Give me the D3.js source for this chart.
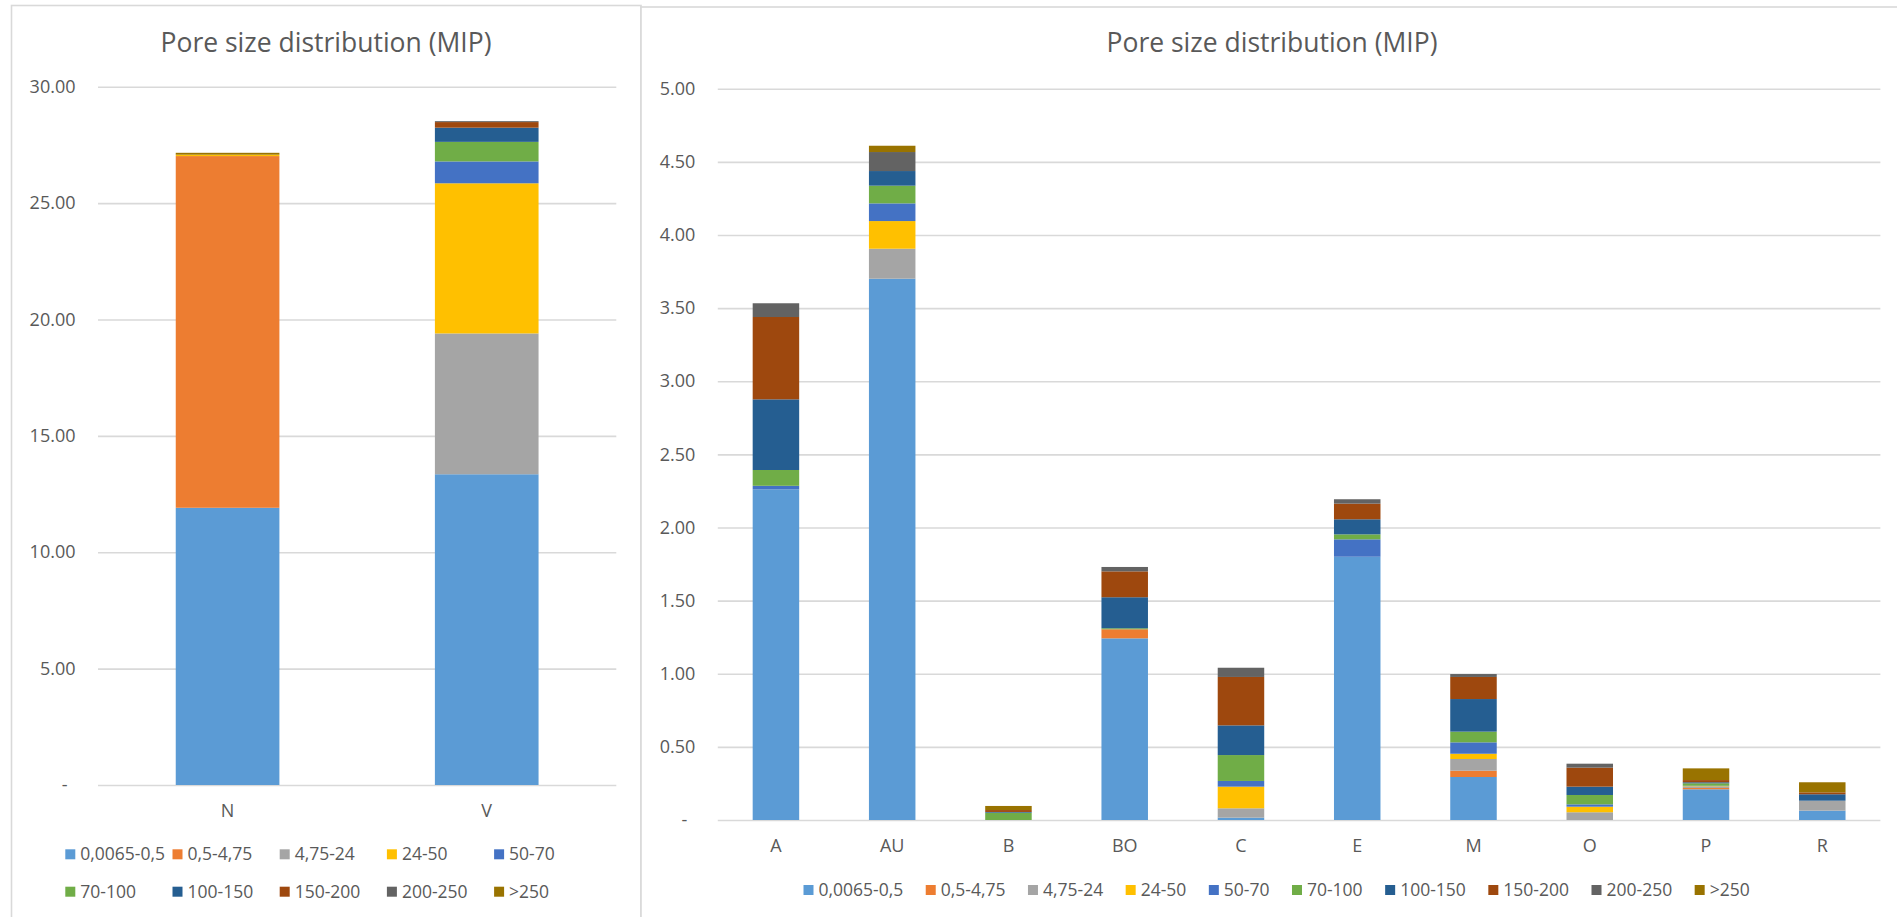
<!DOCTYPE html>
<html>
<head>
<meta charset="utf-8">
<script src="https://cdn.jsdelivr.net/npm/d3@7"></script>
<style>
  body { margin: 0; background: #fff; }
  svg { display: block; font-family: "Open Sans", sans-serif; }
</style>
</head>
<body>
<svg id="chart" width="1897" height="917"></svg>
<script>
// Size classes (legend)
const sizeClasses = ["0,0065-0,5", "0,5-4,75", "4,75-24", "24-50", "50-70",
  "70-100", "100-150", "150-200", "200-250", ">250"];
const colors = ["#5B9BD5", "#ED7D31", "#A5A5A5", "#FFC000", "#4472C4",
  "#70AD47", "#255E91", "#9E480E", "#636363", "#997300"];

// Left chart samples, values per size class
const leftCategories = ["N", "V"];
const N = [11.91, 15.11, 0, 0.06, 0, 0, 0, 0, 0, 0.08];
const V = [13.35, 0, 6.05, 6.45, 0.94, 0.84, 0.61, 0.24, 0.04, 0];
const leftTicks = [0, 5, 10, 15, 20, 25, 30];

// Right chart samples
const rightCategories = ["A", "AU", "B", "BO", "C", "E", "M", "O", "P", "R"];
const A  = [2.261, 0, 0, 0, 0.024, 0.108, 0.483, 0.563, 0.094, 0];
const AU = [3.701, 0, 0.205, 0.189, 0.121, 0.121, 0.100, 0, 0.130, 0.043];
const B  = [0, 0, 0, 0, 0, 0.050, 0.005, 0.013, 0, 0.028];
const BO = [1.242, 0.062, 0, 0, 0, 0.007, 0.212, 0.177, 0.030, 0];
const C  = [0.016, 0, 0.064, 0.148, 0.039, 0.177, 0.203, 0.331, 0.063, 0];
const E  = [1.800, 0, 0, 0, 0.119, 0.034, 0.103, 0.107, 0.030, 0];
const M  = [0.294, 0.043, 0.080, 0.036, 0.078, 0.073, 0.223, 0.151, 0.020, 0];
const O  = [0, 0, 0.053, 0.038, 0.016, 0.064, 0.057, 0.130, 0.027, 0];
const P  = [0.210, 0.009, 0.009, 0.003, 0.003, 0.017, 0.007, 0.015, 0, 0.080];
const R  = [0.064, 0, 0.068, 0, 0, 0, 0.044, 0.013, 0, 0.069];
const rightTicks = [0, 0.5, 1, 1.5, 2, 2.5, 3, 3.5, 4, 4.5, 5];

const title = "Pore size distribution (MIP)";
const textColor = "#595959";
const gridColor = "#d9d9d9";

const svg = d3.select("#chart");

// build rows for d3.stack
function toRows(cats, arrays) {
  return cats.map((c, i) => {
    const row = { cat: c };
    sizeClasses.forEach((s, j) => row[s] = arrays[i][j]);
    return row;
  });
}

function drawChart(opts) {
  const g = svg.append("g");

  // panel border
  g.append("rect")
    .attr("x", opts.panel.x).attr("y", opts.panel.y)
    .attr("width", opts.panel.w).attr("height", opts.panel.h)
    .attr("fill", "#fff").attr("stroke", gridColor).attr("stroke-width", 1.6);

  // title
  g.append("text")
    .attr("x", opts.titleX).attr("y", 52)
    .attr("text-anchor", "middle")
    .attr("fill", textColor)
    .attr("font-size", 26.5)
    .text(title);

  const x = d3.scaleBand()
    .domain(opts.categories)
    .range([opts.x0, opts.x1])
    .paddingInner(0.6)
    .paddingOuter(0.3);

  const y = d3.scaleLinear()
    .domain([0, opts.ticks[opts.ticks.length - 1]])
    .range([opts.y0, opts.y1]);

  // y axis + gridlines
  const yAxis = g.append("g")
    .attr("transform", `translate(${opts.x0},0)`)
    .call(d3.axisLeft(y)
      .tickValues(opts.ticks)
      .tickSize(-(opts.x1 - opts.x0))
      .tickPadding(22.5)
      .tickFormat(d => d === 0 ? "-" : d3.format(".2f")(d)));
  yAxis.select(".domain").remove();
  yAxis.selectAll(".tick line").attr("stroke", gridColor).attr("stroke-width", 1.6);
  yAxis.selectAll(".tick text")
    .attr("fill", textColor)
    .attr("font-size", 18)
    .attr("font-family", "Open Sans, sans-serif")
    .attr("dx", d => d === 0 ? -8 : 0);

  // stacked bars
  const rows = toRows(opts.categories, opts.values);
  const series = d3.stack().keys(sizeClasses)(rows);

  g.append("g")
    .selectAll("g")
    .data(series)
    .join("g")
      .attr("fill", (d, i) => colors[i])
    .selectAll("rect")
    .data(d => d.filter(s => s[1] - s[0] > 0))
    .join("rect")
      .attr("x", d => x(d.data.cat))
      .attr("width", x.bandwidth())
      .attr("y", d => y(d[1]))
      .attr("height", d => y(d[0]) - y(d[1]));

  // x axis labels
  const xAxis = g.append("g")
    .attr("transform", `translate(0,${opts.y0})`)
    .call(d3.axisBottom(x).tickSize(0).tickPadding(19.2));
  xAxis.select(".domain").remove();
  xAxis.selectAll(".tick text")
    .attr("fill", textColor)
    .attr("font-size", 18)
    .attr("font-family", "Open Sans, sans-serif");

  return g;
}

function legendItem(g, i, lx, ly) {
  g.append("rect")
    .attr("x", lx).attr("y", ly - 5)
    .attr("width", 10).attr("height", 10)
    .attr("fill", colors[i]);
  return g.append("text")
    .attr("x", lx + 15).attr("y", ly)
    .attr("dy", "0.35em")
    .attr("fill", textColor)
    .attr("font-size", 17.5)
    .text(sizeClasses[i]);
}

// Left chart
const left = drawChart({
  panel: { x: 11.5, y: 5.5, w: 629.5, h: 930 },
  titleX: 326,
  categories: leftCategories,
  values: [N, V],
  ticks: leftTicks,
  x0: 98, x1: 616.3,
  y0: 785, y1: 86.7
});

// left legend: 2 rows of 5 fixed columns
const colW = 107.2;
const leftLegend = left.append("g");
sizeClasses.forEach((s, i) => {
  const col = i % 5, row = Math.floor(i / 5);
  legendItem(leftLegend, i, 65.3 + col * colW, 854.3 + row * 37.4);
});

// Right chart
const right = drawChart({
  panel: { x: 641, y: 7, w: 1290, h: 930 },
  titleX: 1272,
  categories: rightCategories,
  values: [A, AU, B, BO, C, E, M, O, P, R],
  ticks: rightTicks,
  x0: 717.8, x1: 1880.4,
  y0: 820, y1: 88.7
});

// right legend: one flowing row, centred
const rightLegend = right.append("g");
const texts = sizeClasses.map((s, i) => legendItem(rightLegend, i, 0, 890));
const widths = texts.map(t => t.node().getComputedTextLength());
const pad = 22.5;
const total = d3.sum(widths, w => 15 + w) + pad * (widths.length - 1);
let cx = 1276.6 - total / 2;
rightLegend.selectAll("rect").each(function (d, i) {
  d3.select(this).attr("x", cx);
  texts[i].attr("x", cx + 15);
  cx += 15 + widths[i] + pad;
});
</script>
</body>
</html>
